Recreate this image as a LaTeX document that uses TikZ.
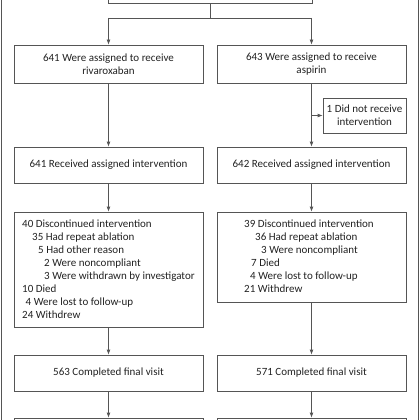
\documentclass[tikz,border=0pt]{standalone}
\usepackage{fontspec}
\setmainfont{Carlito}
\usetikzlibrary{positioning,arrows.meta}
\definecolor{lineGray}{HTML}{555555}
\definecolor{textGray}{HTML}{222222}

\begin{document}
\begin{tikzpicture}[x=1pt, y=-1pt,
    flowBox/.style={rectangle, draw=lineGray, line width=0.8pt, fill=white, minimum width=189pt, minimum height=36pt, inner sep=0pt, align=center, font=\fontsize{11}{13}\selectfont, text=textGray},
    listText/.style={anchor=north west, align=left, inner sep=0pt, font=\fontsize{11}{13}\selectfont, text=textGray},
    flowArrow/.style={-{Latex[length=5pt, width=4pt]}, draw=lineGray, line width=0.8pt},
    flowLine/.style={draw=lineGray, line width=0.8pt}
]
    \useasboundingbox (0,0) rectangle (420,420);
    \clip (0,0) rectangle (420,420);
    \draw[lineGray, line width=0.8pt] (1,-20) rectangle (418,440);

    % Box in alto (tagliato)
    \node[flowBox, minimum width=204pt, minimum height=30pt] (enrolled) at (210,-12) {};
    \coordinate (splitL) at (108.5,18);
    \coordinate (splitR) at (311.5,18);

    % Assegnazione
    \node[flowBox, minimum height=38pt] (assignA) at (108.5,64) {641 Were assigned to receive\\rivaroxaban};
    \node[flowBox, minimum height=38pt] (assignB) at (311.5,64) {643 Were assigned to receive\\aspirin};
    \node[flowBox, minimum width=83pt, minimum height=35pt] (noRx) at (364.5,115.5) {1 Did not receive\\intervention};
    \coordinate (sideFork) at (assignB.south |- noRx.west);

    % Intervento ricevuto
    \node[flowBox] (receivedA) at (108.5,165) {641 Received assigned intervention};
    \node[flowBox] (receivedB) at (311.5,165) {642 Received assigned intervention};

    % Interruzioni
    \node[flowBox, minimum height=115pt] (stopA) at (108.5,269.5) {};
    \node[flowBox, minimum height=90pt] (stopB) at (311.5,257) {};
    \node[listText] (stopTextA) at (22,219.5) {%
        40 Discontinued intervention\\
        \hspace*{10pt}35 Had repeat ablation\\
        \hspace*{16pt}5 Had other reason\\
        \hspace*{22pt}2 Were noncompliant\\
        \hspace*{22pt}3 Were withdrawn by investigator\\
        10 Died\\
        \hspace*{3.5pt}4 Were lost to follow-up\\
        24 Withdrew};
    \node[listText] (stopTextB) at (244,219.5) {%
        39 Discontinued intervention\\
        \hspace*{11pt}36 Had repeat ablation\\
        \hspace*{17pt}3 Were noncompliant\\
        \hspace*{7pt}7 Died\\
        \hspace*{6pt}4 Were lost to follow-up\\
        21 Withdrew};

    % Visita finale
    \node[flowBox] (finalA) at (108.5,373) {563 Completed final visit};
    \node[flowBox] (finalB) at (311.5,373) {571 Completed final visit};

    % Box in basso (tagliati)
    \node[flowBox] (lastA) at (108.5,436) {};
    \node[flowBox] (lastB) at (311.5,436) {};

    % Connessioni
    \draw[flowLine] (enrolled.south) -- (enrolled.south |- splitL);
    \draw[flowLine] (splitL) -- (splitR);
    \draw[flowArrow] (splitL) -- (assignA);
    \draw[flowArrow] (splitR) -- (assignB);
    \draw[flowArrow] (assignA) -- (receivedA);
    \draw[flowArrow] (assignB) -- (receivedB);
    \draw[flowArrow] (sideFork) -- (noRx);
    \draw[flowArrow] (receivedA) -- (stopA);
    \draw[flowArrow] (receivedB) -- (stopB);
    \draw[flowArrow] (stopA) -- (finalA);
    \draw[flowArrow] (stopB) -- (finalB);
    \draw[flowArrow] (finalA) -- (lastA);
    \draw[flowArrow] (finalB) -- (lastB);
\end{tikzpicture}
\end{document}
